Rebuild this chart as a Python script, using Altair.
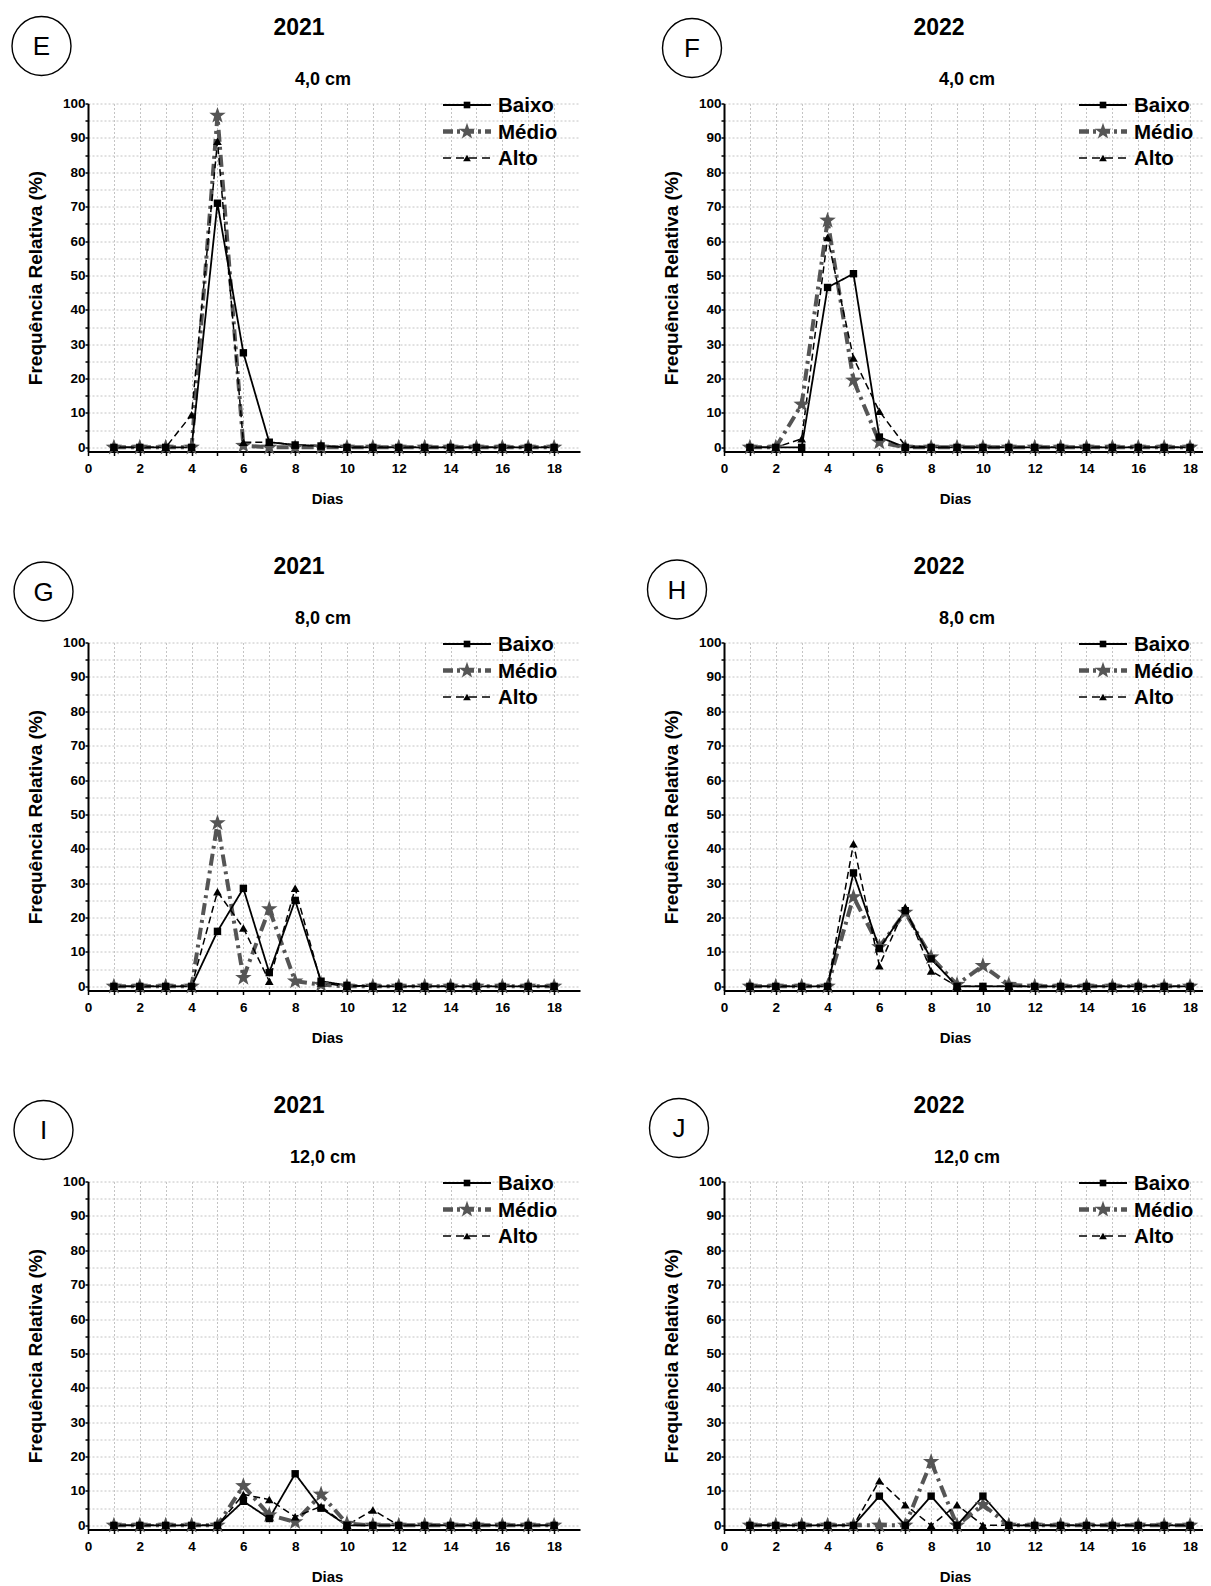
import altair as alt
import pandas as pd

days = list(range(1, 19))
series = ["Baixo", "Médio", "Alto"]

# ---- values (Frequência Relativa, %) ----
E_baixo = [0, 0, 0, 0, 71, 27.5, 1.5, 0.7, 0.4, 0, 0, 0, 0, 0, 0, 0, 0, 0]
E_medio = [0, 0, 0, 0, 96.5, 0.5, 0, 0, 0, 0, 0, 0, 0, 0, 0, 0, 0, 0]
E_alto = [0, 0, 0, 9.5, 89, 1.5, 1.5, 0.7, 0.5, 0, 0, 0, 0, 0, 0, 0, 0, 0]

F_baixo = [0, 0, 0, 46.5, 50.5, 3, 0, 0, 0, 0, 0, 0, 0, 0, 0, 0, 0, 0]
F_medio = [0, 0, 12.5, 66, 19.5, 1.5, 0, 0, 0, 0, 0, 0, 0, 0, 0, 0, 0, 0]
F_alto = [0, 0, 2.5, 61, 26, 10.5, 0.5, 0, 0, 0, 0, 0, 0, 0, 0, 0, 0, 0]

G_baixo = [0, 0, 0, 0, 16, 28.5, 4, 25, 1.5, 0.3, 0, 0, 0, 0, 0, 0, 0, 0]
G_medio = [0, 0, 0, 0, 47.5, 2.5, 22.5, 1.5, 0.5, 0, 0, 0, 0, 0, 0, 0, 0, 0]
G_alto = [0, 0, 0, 0, 27.5, 17, 1.5, 28.5, 1, 0, 0, 0, 0, 0, 0, 0, 0, 0]

H_baixo = [0, 0, 0, 0, 33, 11, 22, 8, 0, 0, 0, 0, 0, 0, 0, 0, 0, 0]
H_medio = [0, 0, 0, 0, 26, 11.5, 21.5, 8.5, 0.5, 6, 0.5, 0, 0, 0, 0, 0, 0, 0]
H_alto = [0, 0, 0, 0, 41.5, 6, 23, 4.5, 0, 0, 0, 0, 0, 0, 0, 0, 0, 0]

I_baixo = [0, 0, 0, 0, 0, 7, 2, 15, 5, 0, 0, 0, 0, 0, 0, 0, 0, 0]
I_medio = [0, 0, 0, 0, 0, 11.5, 3, 1, 9, 0.5, 0, 0, 0, 0, 0, 0, 0, 0]
I_alto = [0, 0, 0, 0, 0, 9, 7.5, 2.5, 5.5, 0, 4.5, 0, 0, 0, 0, 0, 0, 0]

J_baixo = [0, 0, 0, 0, 0, 8.5, 0, 8.5, 0, 8.5, 0, 0, 0, 0, 0, 0, 0, 0]
J_medio = [0, 0, 0, 0, 0, 0, 0, 18.5, 0, 6, 0, 0, 0, 0, 0, 0, 0, 0]
J_alto = [0, 0, 0, 0, 0, 13, 6, 0, 6, 0, 0, 0, 0, 0, 0, 0, 0, 0]

letters = ["E", "F", "G", "H", "I", "J"]
years = ["2021", "2022", "2021", "2022", "2021", "2022"]
sizes = ["4,0 cm", "4,0 cm", "8,0 cm", "8,0 cm", "12,0 cm", "12,0 cm"]
values = [
    (E_baixo, E_medio, E_alto),
    (F_baixo, F_medio, F_alto),
    (G_baixo, G_medio, G_alto),
    (H_baixo, H_medio, H_alto),
    (I_baixo, I_medio, I_alto),
    (J_baixo, J_medio, J_alto),
]

# ---- styling ----
FONT = "Liberation Sans"
STAR = ("M0,-1L0.235,-0.324L0.951,-0.309L0.38,0.124L0.588,0.809L0,0.4"
        "L-0.588,0.809L-0.38,0.124L-0.951,-0.309L-0.235,-0.324Z")
GRAY = "#555555"
STYLE = {
    "Baixo": dict(color="black", width=1.8, dash=[1, 0], shape="square", size=55),
    "Médio": dict(color=GRAY, width=4, dash=[12, 5, 3, 5], shape=STAR, size=300),
    "Alto": dict(color="black", width=1.5, dash=[7, 4], shape="triangle-up", size=75),
}
circle_off = [(-46.5, -57.5), (-32, -55.5), (-44.5, -51), (-47, -53), (-44.5, -51.5), (-45, -53.5)]
col_width = [492, 479]
col_xmax = [19, 18.5]
col_title_x = [239, 231]
H = 348


def panel(i):
    col = i % 2
    b, m, a = values[i]
    df = pd.DataFrame({
        "Dias": days * 3,
        "Freq": b + m + a,
        "Serie": [series[0]] * 18 + [series[1]] * 18 + [series[2]] * 18,
    })
    base = alt.Chart(df).encode(
        x=alt.X("Dias:Q",
                scale=alt.Scale(domain=[0, col_xmax[col]], nice=False, zero=False),
                axis=alt.Axis(values=list(range(0, 19)), title="Dias",
                              labelExpr="datum.value % 2 == 0 ? datum.label : ''",
                              labelFlush=False, tickSize=4, labelPadding=6,
                              titleX=col_title_x[col],
                              titlePadding=16, titleFontSize=15)),
        y=alt.Y("Freq:Q",
                scale=alt.Scale(domain=[-1.2, 100], nice=False, zero=False),
                axis=alt.Axis(values=list(range(0, 101, 5)),
                              title="Frequência Relativa (%)",
                              labelExpr="datum.value % 10 == 0 ? datum.label : ''",
                              labelFlush=False, tickSize=3, labelPadding=0,
                              titlePadding=17, titleFontSize=19)),
    )
    layers = []
    for s in ["Médio", "Baixo", "Alto"]:
        st = STYLE[s]
        layers.append(base.transform_filter(alt.datum.Serie == s).mark_line(
            color=st["color"], strokeWidth=st["width"], strokeDash=st["dash"]))
    for s in ["Médio", "Baixo", "Alto"]:
        st = STYLE[s]
        layers.append(base.transform_filter(alt.datum.Serie == s).mark_point(
            shape=st["shape"], size=st["size"], filled=True, opacity=1,
            color=st["color"], strokeWidth=0))

    # manual legend (top right, inside the plot)
    for k, s in enumerate(series):
        st = STYLE[s]
        ly = 1.5 + 26.5 * k
        ldf = pd.DataFrame({"s": [s]})
        layers.append(alt.Chart(ldf).mark_rule(
            color=st["color"], strokeWidth=st["width"] + (0.5 if s == "Médio" else 0),
            strokeDash=[1, 0] if s == "Baixo" else ([10, 4, 3, 4] if s == "Médio" else [8, 5])
        ).encode(x=alt.value(355), x2=alt.value(403), y=alt.value(ly)))
        layers.append(alt.Chart(ldf).mark_point(
            shape=st["shape"], size=st["size"] * (0.8 if s != "Médio" else 1.0),
            filled=True, opacity=1, color=st["color"], strokeWidth=0
        ).encode(x=alt.value(379), y=alt.value(ly)))
        layers.append(alt.Chart(ldf).mark_text(
            align="left", baseline="middle", font=FONT, fontSize=20.5,
            fontWeight="bold", color="black"
        ).encode(text="s:N", x=alt.value(410), y=alt.value(ly + 1)))

    # titles and panel letter
    tdf = pd.DataFrame({"year": [years[i]], "size": [sizes[i]], "letter": [letters[i]]})
    layers.append(alt.Chart(tdf).mark_text(
        align="center", baseline="middle", font=FONT, fontSize=23,
        fontWeight="bold", color="black"
    ).encode(text="year:N", x=alt.value(211 if col == 0 else 215), y=alt.value(-76)))
    layers.append(alt.Chart(tdf).mark_text(
        align="center", baseline="middle", font=FONT, fontSize=18,
        fontWeight="bold", color="black"
    ).encode(text="size:N", x=alt.value(235 if col == 0 else 243), y=alt.value(-24)))
    cx, cy = circle_off[i]
    layers.append(alt.Chart(tdf).mark_point(
        shape="circle", size=3481, filled=False, color="black", strokeWidth=1.4, opacity=1
    ).encode(x=alt.value(cx), y=alt.value(cy)))
    layers.append(alt.Chart(tdf).mark_text(
        align="center", baseline="middle", font=FONT, fontSize=26,
        fontWeight="normal", color="black"
    ).encode(text="letter:N", x=alt.value(cx), y=alt.value(cy + 1)))

    return alt.layer(*layers).properties(width=col_width[col], height=H)


charts = [panel(i) for i in range(6)]

chart = alt.concat(
    *charts, columns=2, spacing={"row": 191, "column": 144}, bounds="flush"
).properties(
    padding={"left": 1, "top": 5.5, "right": 0, "bottom": 0}
).configure_view(
    stroke=None
).configure_axis(
    labelFont=FONT, labelFontWeight="bold", labelFontSize=13.5, labelColor="black",
    titleFont=FONT, titleFontWeight="bold", titleColor="black",
    domainColor="black", domainWidth=2, tickColor="black", tickWidth=1.5,
    grid=True, gridColor="#c4c4c4", gridDash=[2, 2], gridWidth=1,
)

chart.save("out.html", embed_options={"renderer": "svg", "actions": False})
